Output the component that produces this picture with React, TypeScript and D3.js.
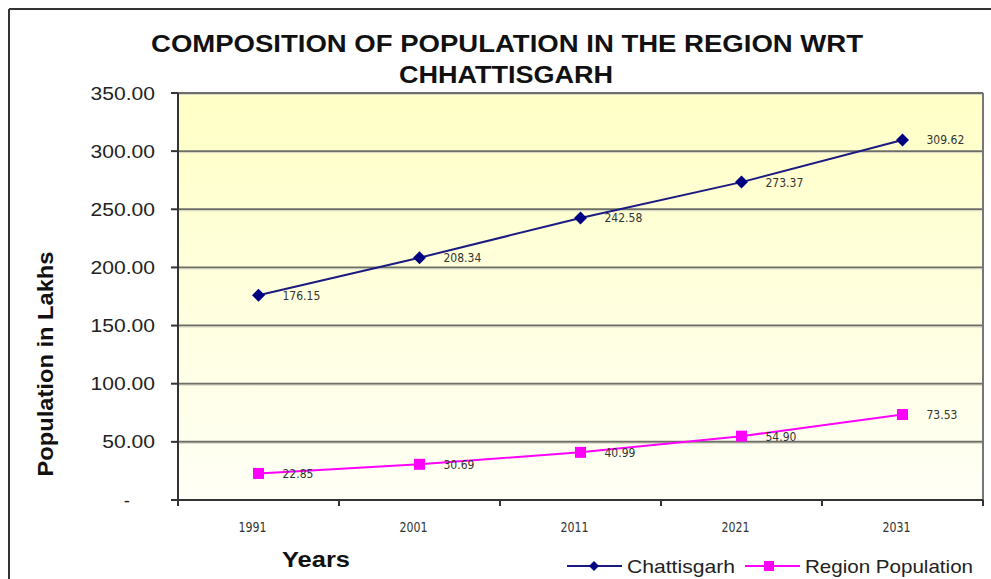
import React from "react";
import * as d3 from "d3";

const years = ["1991", "2001", "2011", "2021", "2031"];
const chattisgarh = [176.15, 208.34, 242.58, 273.37, 309.62];
const region = [22.85, 30.69, 40.99, 54.9, 73.53];
const yTicks = [0, 50, 100, 150, 200, 250, 300, 350];
const seriesNames = ["Chattisgarh", "Region Population"];

const W = 991;
const H = 579;
const M = { left: 178, right: 983, top: 93, bottom: 500 };
const STRETCH = 1.14;

let ctx: CanvasRenderingContext2D | null = null;
function measure(text: string, font: string): number {
  if (!ctx) ctx = document.createElement("canvas").getContext("2d");
  if (!ctx) return text.length * 10;
  ctx.font = font;
  return ctx.measureText(text).width;
}

export default function App() {
  const x = d3.scaleBand<string>().domain(years).range([M.left, M.right]);
  const y = d3.scaleLinear().domain([0, 350]).range([M.bottom, M.top]);
  const cx = (yr: string) => (x(yr) as number) + x.bandwidth() / 2;
  const line = d3
    .line<number>()
    .x((_, i) => cx(years[i]))
    .y((d) => y(d));
  const labelFont = "'DejaVu Sans Condensed', 'DejaVu Sans', sans-serif";
  const diamondPath = (r: number) => `M0,${-r}L${r},0L0,${r}L${-r},0Z`;
  const boundaries = years.map((yr) => x(yr) as number).concat([M.right]);
  const tickFont = "18.5px 'Liberation Sans', Arial, sans-serif";

  return (
    <svg
      width={W}
      height={H}
      style={{ position: "absolute", left: 0, top: 0, background: "#fff" }}
      fontFamily="'Liberation Sans', Arial, sans-serif"
    >
      <defs>
        <linearGradient id="bg" x1="0" y1="0" x2="0" y2="1">
          <stop offset="0" stopColor="#FFFFC6" />
          <stop offset="1" stopColor="#FFFFF6" />
        </linearGradient>
      </defs>
      {/* outer frame */}
      <line x1={9} y1={9} x2={W} y2={9} stroke="#333" strokeWidth={2} />
      <line x1={9} y1={9} x2={9} y2={H} stroke="#333" strokeWidth={2} />

      {/* title */}
      <text x={507} y={52} textAnchor="middle" fontWeight="bold" fontSize={23.5} fill="#111" textLength={712} lengthAdjust="spacingAndGlyphs">
        COMPOSITION OF POPULATION IN THE REGION WRT
      </text>
      <text x={506} y={83} textAnchor="middle" fontWeight="bold" fontSize={23.5} fill="#111" textLength={214} lengthAdjust="spacingAndGlyphs">
        CHHATTISGARH
      </text>

      {/* plot background */}
      <rect x={M.left} y={M.top} width={M.right - M.left} height={M.bottom - M.top} fill="url(#bg)" />

      {/* gridlines */}
      {yTicks
        .filter((t) => t > 0)
        .map((t) => (
          <g key={t}>
            <line x1={M.left} x2={M.right} y1={y(t)} y2={y(t)} stroke="#6e6e68" strokeWidth={2} />
            <line x1={M.left} x2={M.right} y1={y(t) + 1.5} y2={y(t) + 1.5} stroke="#d8d8c8" strokeWidth={1} />
          </g>
        ))}
      <line x1={M.right} x2={M.right} y1={M.top} y2={M.bottom} stroke="#777" strokeWidth={2} />

      {/* axes */}
      <line x1={M.left} x2={M.left} y1={M.top} y2={M.bottom + 6} stroke="#333" strokeWidth={2} />
      <line x1={M.left} x2={M.right} y1={M.bottom} y2={M.bottom} stroke="#333" strokeWidth={2} />
      {yTicks.map((t) => {
        const label = t === 0 ? "-" : t.toFixed(2);
        return (
          <g key={t}>
            <line x1={M.left - 7} x2={M.left} y1={y(t)} y2={y(t)} stroke="#333" strokeWidth={2} />
            <text
              x={155}
              y={y(t) + 6.5}
              textAnchor="end"
              fontSize={18.5}
              fill="#222"
              textLength={t === 0 ? undefined : measure(label, tickFont) * STRETCH}
              lengthAdjust="spacingAndGlyphs"
              dx={t === 0 ? -25 : 0}
            >
              {label}
            </text>
          </g>
        );
      })}
      {boundaries.map((b, i) => (
        <line key={i} x1={b} x2={b} y1={M.bottom} y2={M.bottom + 6} stroke="#333" strokeWidth={2} />
      ))}
      {years.map((yr) => (
        <text key={yr} x={cx(yr) - 6} y={532} textAnchor="middle" fontSize={13.5} fill="#333" fontFamily={labelFont} textLength={28} lengthAdjust="spacingAndGlyphs">
          {yr}
        </text>
      ))}

      {/* axis titles */}
      <text
        transform={`translate(53,364) rotate(-90)`}
        textAnchor="middle"
        fontWeight="bold"
        fontSize={22}
        fill="#111"
        textLength={225}
        lengthAdjust="spacingAndGlyphs"
      >
        Population in Lakhs
      </text>
      <text x={316} y={567} textAnchor="middle" fontWeight="bold" fontSize={22} fill="#111" textLength={68} lengthAdjust="spacingAndGlyphs">
        Years
      </text>

      {/* series */}
      <path d={line(chattisgarh) as string} fill="none" stroke="#1a1a80" strokeWidth={2} />
      <path d={line(region) as string} fill="none" stroke="#FF00FF" strokeWidth={2} />
      {chattisgarh.map((v, i) => (
        <g key={"c" + i}>
          <path d={diamondPath(6.5)} transform={`translate(${cx(years[i])},${y(v)})`} fill="#000080" />
          <text x={cx(years[i]) + 24} y={y(v) + 4.5} fontSize={12} fill="#333" fontFamily={labelFont}>
            {v.toFixed(2)}
          </text>
        </g>
      ))}
      {region.map((v, i) => (
        <g key={"r" + i}>
          <rect x={cx(years[i]) - 5.5} y={y(v) - 5.5} width={11} height={11} fill="#FF00FF" />
          <text x={cx(years[i]) + 24} y={y(v) + 4.5} fontSize={12} fill="#333" fontFamily={labelFont}>
            {v.toFixed(2)}
          </text>
        </g>
      ))}

      {/* legend */}
      <g>
        <line x1={567} x2={622} y1={566} y2={566} stroke="#1a1a80" strokeWidth={2} />
        <path d={diamondPath(5)} transform="translate(594,566)" fill="#000080" />
        <text x={627} y={572.5} fontSize={18.5} fill="#222" textLength={108} lengthAdjust="spacingAndGlyphs">
          {seriesNames[0]}
        </text>
        <line x1={745} x2={800} y1={566} y2={566} stroke="#FF00FF" strokeWidth={2} />
        <rect x={764} y={561} width={10} height={10} fill="#FF00FF" />
        <text x={805} y={572.5} fontSize={18.5} fill="#222" textLength={168} lengthAdjust="spacingAndGlyphs">
          {seriesNames[1]}
        </text>
      </g>
    </svg>
  );
}
